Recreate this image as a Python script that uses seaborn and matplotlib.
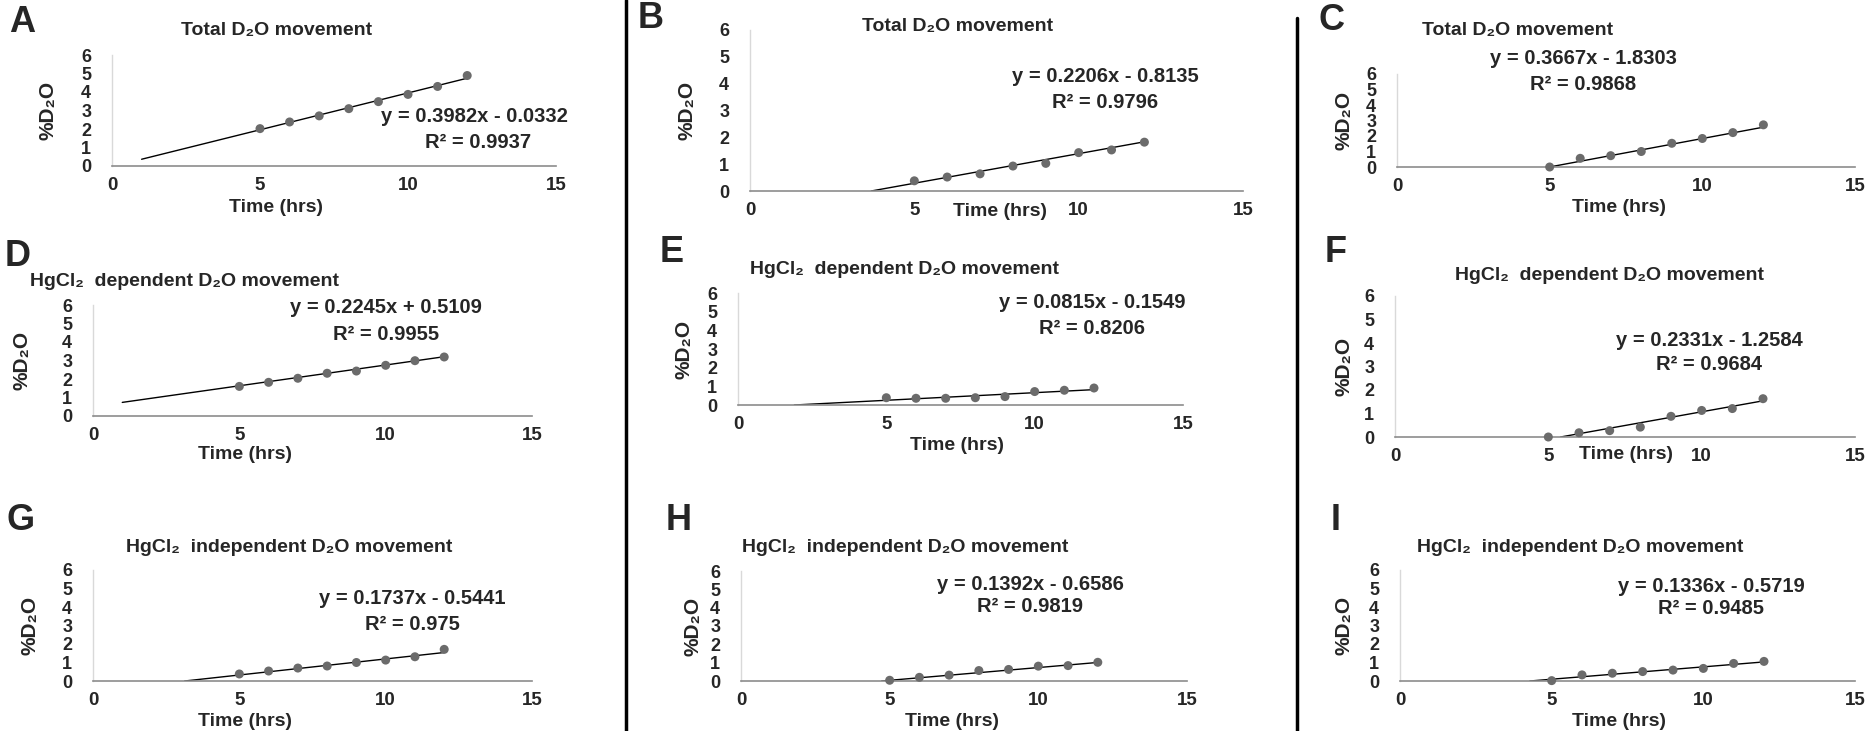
import numpy as np
import pandas as pd
import matplotlib
matplotlib.use("Agg")
import matplotlib.pyplot as plt
from matplotlib.lines import Line2D
import seaborn as sns

# ---------------- data ----------------
hours = [5, 6, 7, 8, 9, 10, 11, 12]
panel_letters = ["A", "B", "C", "D", "E", "F", "G", "H", "I"]
titles = ["Total D₂O movement"] * 3 + ["HgCl₂  dependent D₂O movement"] * 3 + \
         ["HgCl₂  independent D₂O movement"] * 3
vals_A = [2.02, 2.38, 2.71, 3.10, 3.48, 3.87, 4.30, 4.89]
vals_B = [0.38, 0.52, 0.64, 0.93, 1.03, 1.43, 1.53, 1.82]
vals_C = [0.00, 0.56, 0.73, 1.00, 1.53, 1.84, 2.22, 2.72]
vals_D = [1.60, 1.82, 2.04, 2.31, 2.43, 2.74, 2.99, 3.19]
vals_E = [0.39, 0.36, 0.36, 0.39, 0.45, 0.72, 0.79, 0.91]
vals_F = [0.00, 0.18, 0.27, 0.42, 0.88, 1.13, 1.21, 1.63]
vals_G = [0.38, 0.54, 0.70, 0.81, 1.00, 1.13, 1.31, 1.71]
vals_H = [0.04, 0.20, 0.32, 0.57, 0.63, 0.81, 0.84, 1.02]
vals_I = [0.02, 0.33, 0.42, 0.51, 0.59, 0.68, 0.95, 1.06]
slopes = [0.3982, 0.2206, 0.3667, 0.2245, 0.0815, 0.2331, 0.1737, 0.1392, 0.1336]
intercepts = [-0.0332, -0.8135, -1.8303, 0.5109, -0.1549, -1.2584, -0.5441, -0.6586, -0.5719]
r_squared = ["0.9937", "0.9796", "0.9868", "0.9955", "0.8206", "0.9684", "0.975", "0.9819", "0.9485"]
x_ticks = [0, 5, 10, 15]
y_ticks = [0, 1, 2, 3, 4, 5, 6]
x_label = "Time (hrs)"
y_label = "%D₂O"

all_vals = [vals_A, vals_B, vals_C, vals_D, vals_E, vals_F, vals_G, vals_H, vals_I]

# ---------------- layout (pixels) ----------------
W, H = 1874, 731
# axes box: left, top, right, bottom
boxes = [
    (112, 55, 556, 166), (750, 30, 1243, 191), (1397, 74, 1855, 167),
    (93, 305, 532, 416), (738, 293, 1183, 405), (1395, 296, 1855, 437),
    (93, 570, 532, 681), (741, 571, 1187, 681), (1400, 570, 1855, 681),
]
letter_pos = [(22, 22), (651, 19), (1332, 21), (18, 257), (672, 253), (1336, 253),
              (21, 520), (679, 520), (1336, 520)]
title_pos = [(277, 30), (958, 26), (1518, 30), (185, 282), (905, 269), (1610, 276),
             (289, 547), (905, 547), (1580, 547)]
eq_pos = [(474, 117), (1105, 76), (1583, 59), (386, 308), (1092, 303), (1709, 341),
          (412, 598), (1030, 584), (1711, 586)]
r2_pos = [(478, 142), (1105, 102), (1583, 84), (386, 334), (1092, 328), (1709, 365),
          (412, 625), (1030, 607), (1711, 609)]
xlabel_pos = [(276, 208), (1000, 212), (1619, 208), (245, 455), (957, 446), (1626, 455),
              (245, 722), (952, 722), (1619, 722)]
ylabel_x = [48, 687, 1344, 22, 684, 1344, 30, 693, 1344]

sns.set_style("white")
plt.rcParams["font.family"] = ["Liberation Sans", "DejaVu Sans"]
plt.rcParams["font.weight"] = "bold"

fig = plt.figure(figsize=(W / 100, H / 100), dpi=100)


def fx(x):
    return x / W


def fy(y):
    return 1 - y / H


point_color = "#6b6b6b"

for i in range(9):
    l, t, r, b = boxes[i]
    ax = fig.add_axes([fx(l), fy(b), fx(r) - fx(l), fy(t) - fy(b)])
    df = pd.DataFrame({"hours": hours, "d2o": all_vals[i]})
    m, c = slopes[i], intercepts[i]
    x0 = max(hours[0] - 4, -c / m)
    xs = np.array([x0, hours[-1]])
    ax.plot(xs, m * xs + c, color="black", lw=1.0, zorder=2)
    sns.scatterplot(data=df, x="hours", y="d2o", ax=ax, color=point_color, s=42,
                    edgecolor="none", zorder=3, clip_on=False, legend=False)
    ax.set_xlim(0, 15)
    ax.set_ylim(0, 6)
    ax.set_xticks(x_ticks)
    ax.set_yticks(y_ticks)
    ax.set_xlabel("")
    ax.set_ylabel("")
    ax.tick_params(axis="x", length=0, labelsize=13.5, pad=8)
    ax.tick_params(axis="y", length=0, labelsize=13, pad=15)
    for lab in ax.get_xticklabels() + ax.get_yticklabels():
        lab.set_fontweight("bold")
    for s in ["top", "right"]:
        ax.spines[s].set_visible(False)
    ax.spines["left"].set_color("#d9d9d9")
    ax.spines["left"].set_linewidth(1.0)
    ax.spines["bottom"].set_color("#8c8c8c")
    ax.spines["bottom"].set_linewidth(1.2)
    ax.patch.set_alpha(0)

    sign = "-" if c < 0 else "+"
    eq = f"y = {m:.4f}x {sign} {abs(c):.4f}"
    fig.text(fx(eq_pos[i][0]), fy(eq_pos[i][1]), eq, ha="center", va="center",
             fontsize=14.5, fontweight="bold")
    fig.text(fx(r2_pos[i][0]), fy(r2_pos[i][1]), f"R² = {r_squared[i]}", ha="center",
             va="center", fontsize=14.5, fontweight="bold")
    fig.text(fx(title_pos[i][0]), fy(title_pos[i][1]), titles[i], ha="center",
             va="center", fontsize=14, fontweight="bold")
    fig.text(fx(letter_pos[i][0]), fy(letter_pos[i][1]), panel_letters[i], ha="center",
             va="center", fontsize=26, fontweight="bold")
    fig.text(fx(xlabel_pos[i][0]), fy(xlabel_pos[i][1]), x_label, ha="center",
             va="center", fontsize=14, fontweight="bold")
    fig.text(fx(ylabel_x[i]), fy((t + b) / 2), y_label, ha="center", va="center",
             rotation=90, fontsize=15, fontweight="bold")

# divider lines
fig.add_artist(Line2D([fx(626), fx(626)], [0, 1], transform=fig.transFigure,
                      color="black", lw=2.5))
fig.add_artist(Line2D([fx(1297), fx(1297)], [0, fy(18)], transform=fig.transFigure,
                      color="black", lw=2.5))

fig.savefig("out.png", dpi=100)
